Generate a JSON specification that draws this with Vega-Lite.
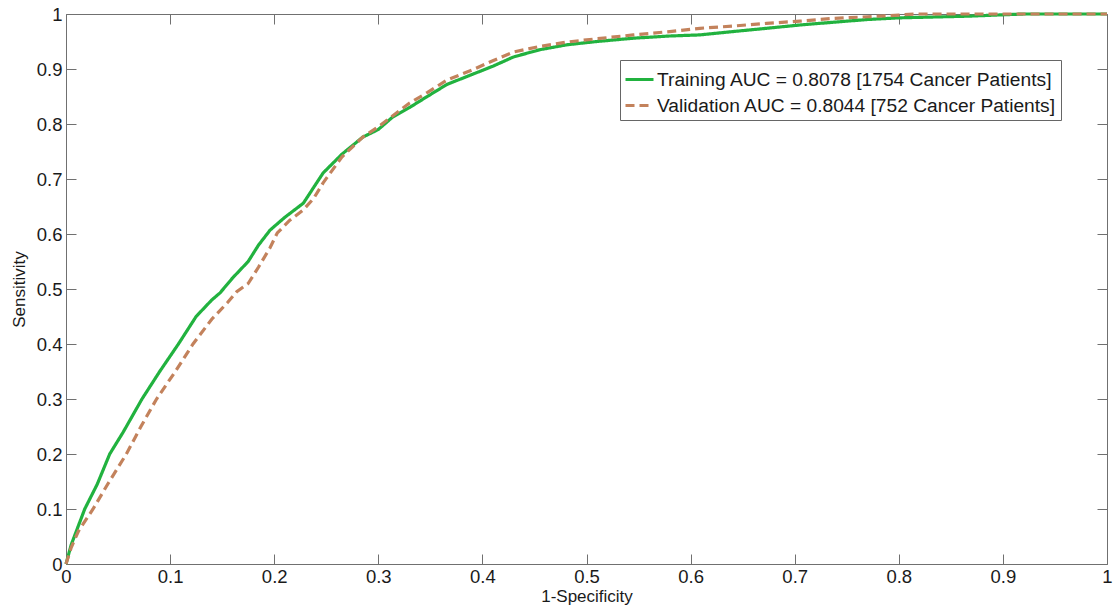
{
  "$schema": "https://vega.github.io/schema/vega-lite/v6.json",
  "width": 1041,
  "height": 550,
  "autosize": {"type": "none"},
  "padding": {"left": 66, "top": 14, "right": 6, "bottom": 44},
  "background": "white",
  "config": {
    "view": {"stroke": null},
    "font": "Liberation Sans",
    "axis": {
      "grid": false,
      "domainColor": "#707070",
      "tickColor": "#707070",
      "tickSize": -10,
      "labelColor": "#1a1a1a",
      "labelFont": "Liberation Sans",
      "labelFontSize": 18.5,
      "titleFont": "Liberation Sans",
      "titleFontSize": 17,
      "titleFontWeight": "normal",
      "titleColor": "#1a1a1a",
      "labelFlush": false,
      "labelOverlap": false
    }
  },
  "datasets": {
    "roc": [
      {"series": "Training AUC = 0.8078 [1754 Cancer Patients]", "fpr": 0, "tpr": 0},
      {"series": "Training AUC = 0.8078 [1754 Cancer Patients]", "fpr": 0.005, "tpr": 0.035},
      {"series": "Training AUC = 0.8078 [1754 Cancer Patients]", "fpr": 0.01, "tpr": 0.06},
      {"series": "Training AUC = 0.8078 [1754 Cancer Patients]", "fpr": 0.018, "tpr": 0.1},
      {"series": "Training AUC = 0.8078 [1754 Cancer Patients]", "fpr": 0.03, "tpr": 0.145},
      {"series": "Training AUC = 0.8078 [1754 Cancer Patients]", "fpr": 0.042, "tpr": 0.2},
      {"series": "Training AUC = 0.8078 [1754 Cancer Patients]", "fpr": 0.055, "tpr": 0.24},
      {"series": "Training AUC = 0.8078 [1754 Cancer Patients]", "fpr": 0.073, "tpr": 0.3},
      {"series": "Training AUC = 0.8078 [1754 Cancer Patients]", "fpr": 0.09, "tpr": 0.35},
      {"series": "Training AUC = 0.8078 [1754 Cancer Patients]", "fpr": 0.108, "tpr": 0.4},
      {"series": "Training AUC = 0.8078 [1754 Cancer Patients]", "fpr": 0.125, "tpr": 0.45},
      {"series": "Training AUC = 0.8078 [1754 Cancer Patients]", "fpr": 0.14, "tpr": 0.48},
      {"series": "Training AUC = 0.8078 [1754 Cancer Patients]", "fpr": 0.148, "tpr": 0.493},
      {"series": "Training AUC = 0.8078 [1754 Cancer Patients]", "fpr": 0.16, "tpr": 0.52},
      {"series": "Training AUC = 0.8078 [1754 Cancer Patients]", "fpr": 0.175, "tpr": 0.55},
      {"series": "Training AUC = 0.8078 [1754 Cancer Patients]", "fpr": 0.185, "tpr": 0.58},
      {"series": "Training AUC = 0.8078 [1754 Cancer Patients]", "fpr": 0.196, "tpr": 0.607},
      {"series": "Training AUC = 0.8078 [1754 Cancer Patients]", "fpr": 0.21, "tpr": 0.63},
      {"series": "Training AUC = 0.8078 [1754 Cancer Patients]", "fpr": 0.228, "tpr": 0.656},
      {"series": "Training AUC = 0.8078 [1754 Cancer Patients]", "fpr": 0.247, "tpr": 0.711},
      {"series": "Training AUC = 0.8078 [1754 Cancer Patients]", "fpr": 0.265, "tpr": 0.745},
      {"series": "Training AUC = 0.8078 [1754 Cancer Patients]", "fpr": 0.285, "tpr": 0.776},
      {"series": "Training AUC = 0.8078 [1754 Cancer Patients]", "fpr": 0.3, "tpr": 0.79},
      {"series": "Training AUC = 0.8078 [1754 Cancer Patients]", "fpr": 0.314, "tpr": 0.813},
      {"series": "Training AUC = 0.8078 [1754 Cancer Patients]", "fpr": 0.33, "tpr": 0.83},
      {"series": "Training AUC = 0.8078 [1754 Cancer Patients]", "fpr": 0.347, "tpr": 0.85},
      {"series": "Training AUC = 0.8078 [1754 Cancer Patients]", "fpr": 0.366, "tpr": 0.872},
      {"series": "Training AUC = 0.8078 [1754 Cancer Patients]", "fpr": 0.39, "tpr": 0.89},
      {"series": "Training AUC = 0.8078 [1754 Cancer Patients]", "fpr": 0.41, "tpr": 0.905},
      {"series": "Training AUC = 0.8078 [1754 Cancer Patients]", "fpr": 0.43, "tpr": 0.922},
      {"series": "Training AUC = 0.8078 [1754 Cancer Patients]", "fpr": 0.455, "tpr": 0.935},
      {"series": "Training AUC = 0.8078 [1754 Cancer Patients]", "fpr": 0.481, "tpr": 0.944},
      {"series": "Training AUC = 0.8078 [1754 Cancer Patients]", "fpr": 0.51, "tpr": 0.95},
      {"series": "Training AUC = 0.8078 [1754 Cancer Patients]", "fpr": 0.545, "tpr": 0.956},
      {"series": "Training AUC = 0.8078 [1754 Cancer Patients]", "fpr": 0.58, "tpr": 0.96},
      {"series": "Training AUC = 0.8078 [1754 Cancer Patients]", "fpr": 0.609, "tpr": 0.962},
      {"series": "Training AUC = 0.8078 [1754 Cancer Patients]", "fpr": 0.635, "tpr": 0.967},
      {"series": "Training AUC = 0.8078 [1754 Cancer Patients]", "fpr": 0.673, "tpr": 0.974},
      {"series": "Training AUC = 0.8078 [1754 Cancer Patients]", "fpr": 0.705, "tpr": 0.98},
      {"series": "Training AUC = 0.8078 [1754 Cancer Patients]", "fpr": 0.737, "tpr": 0.985},
      {"series": "Training AUC = 0.8078 [1754 Cancer Patients]", "fpr": 0.77, "tpr": 0.99},
      {"series": "Training AUC = 0.8078 [1754 Cancer Patients]", "fpr": 0.8, "tpr": 0.993},
      {"series": "Training AUC = 0.8078 [1754 Cancer Patients]", "fpr": 0.866, "tpr": 0.996},
      {"series": "Training AUC = 0.8078 [1754 Cancer Patients]", "fpr": 0.92, "tpr": 1.0},
      {"series": "Training AUC = 0.8078 [1754 Cancer Patients]", "fpr": 1.0, "tpr": 1.0},
      {"series": "Validation AUC = 0.8044 [752 Cancer Patients]", "fpr": 0, "tpr": 0},
      {"series": "Validation AUC = 0.8044 [752 Cancer Patients]", "fpr": 0.005, "tpr": 0.03},
      {"series": "Validation AUC = 0.8044 [752 Cancer Patients]", "fpr": 0.012, "tpr": 0.06},
      {"series": "Validation AUC = 0.8044 [752 Cancer Patients]", "fpr": 0.026, "tpr": 0.1},
      {"series": "Validation AUC = 0.8044 [752 Cancer Patients]", "fpr": 0.04, "tpr": 0.145},
      {"series": "Validation AUC = 0.8044 [752 Cancer Patients]", "fpr": 0.058, "tpr": 0.2},
      {"series": "Validation AUC = 0.8044 [752 Cancer Patients]", "fpr": 0.072, "tpr": 0.25},
      {"series": "Validation AUC = 0.8044 [752 Cancer Patients]", "fpr": 0.087, "tpr": 0.3},
      {"series": "Validation AUC = 0.8044 [752 Cancer Patients]", "fpr": 0.105, "tpr": 0.35},
      {"series": "Validation AUC = 0.8044 [752 Cancer Patients]", "fpr": 0.122, "tpr": 0.4},
      {"series": "Validation AUC = 0.8044 [752 Cancer Patients]", "fpr": 0.14, "tpr": 0.445},
      {"series": "Validation AUC = 0.8044 [752 Cancer Patients]", "fpr": 0.155, "tpr": 0.475},
      {"series": "Validation AUC = 0.8044 [752 Cancer Patients]", "fpr": 0.164, "tpr": 0.495},
      {"series": "Validation AUC = 0.8044 [752 Cancer Patients]", "fpr": 0.175, "tpr": 0.51},
      {"series": "Validation AUC = 0.8044 [752 Cancer Patients]", "fpr": 0.185, "tpr": 0.54},
      {"series": "Validation AUC = 0.8044 [752 Cancer Patients]", "fpr": 0.196, "tpr": 0.575},
      {"series": "Validation AUC = 0.8044 [752 Cancer Patients]", "fpr": 0.203, "tpr": 0.602},
      {"series": "Validation AUC = 0.8044 [752 Cancer Patients]", "fpr": 0.215, "tpr": 0.625},
      {"series": "Validation AUC = 0.8044 [752 Cancer Patients]", "fpr": 0.228, "tpr": 0.644},
      {"series": "Validation AUC = 0.8044 [752 Cancer Patients]", "fpr": 0.238, "tpr": 0.665},
      {"series": "Validation AUC = 0.8044 [752 Cancer Patients]", "fpr": 0.247, "tpr": 0.693},
      {"series": "Validation AUC = 0.8044 [752 Cancer Patients]", "fpr": 0.265, "tpr": 0.74},
      {"series": "Validation AUC = 0.8044 [752 Cancer Patients]", "fpr": 0.285, "tpr": 0.776},
      {"series": "Validation AUC = 0.8044 [752 Cancer Patients]", "fpr": 0.3, "tpr": 0.795},
      {"series": "Validation AUC = 0.8044 [752 Cancer Patients]", "fpr": 0.314, "tpr": 0.815},
      {"series": "Validation AUC = 0.8044 [752 Cancer Patients]", "fpr": 0.33, "tpr": 0.838},
      {"series": "Validation AUC = 0.8044 [752 Cancer Patients]", "fpr": 0.347, "tpr": 0.857},
      {"series": "Validation AUC = 0.8044 [752 Cancer Patients]", "fpr": 0.366, "tpr": 0.88},
      {"series": "Validation AUC = 0.8044 [752 Cancer Patients]", "fpr": 0.39, "tpr": 0.898},
      {"series": "Validation AUC = 0.8044 [752 Cancer Patients]", "fpr": 0.41, "tpr": 0.915},
      {"series": "Validation AUC = 0.8044 [752 Cancer Patients]", "fpr": 0.43, "tpr": 0.931},
      {"series": "Validation AUC = 0.8044 [752 Cancer Patients]", "fpr": 0.455, "tpr": 0.941},
      {"series": "Validation AUC = 0.8044 [752 Cancer Patients]", "fpr": 0.481, "tpr": 0.949},
      {"series": "Validation AUC = 0.8044 [752 Cancer Patients]", "fpr": 0.51, "tpr": 0.955},
      {"series": "Validation AUC = 0.8044 [752 Cancer Patients]", "fpr": 0.545, "tpr": 0.962},
      {"series": "Validation AUC = 0.8044 [752 Cancer Patients]", "fpr": 0.58, "tpr": 0.968},
      {"series": "Validation AUC = 0.8044 [752 Cancer Patients]", "fpr": 0.609, "tpr": 0.974},
      {"series": "Validation AUC = 0.8044 [752 Cancer Patients]", "fpr": 0.64, "tpr": 0.978},
      {"series": "Validation AUC = 0.8044 [752 Cancer Patients]", "fpr": 0.673, "tpr": 0.983},
      {"series": "Validation AUC = 0.8044 [752 Cancer Patients]", "fpr": 0.705, "tpr": 0.987},
      {"series": "Validation AUC = 0.8044 [752 Cancer Patients]", "fpr": 0.737, "tpr": 0.992},
      {"series": "Validation AUC = 0.8044 [752 Cancer Patients]", "fpr": 0.77, "tpr": 0.995},
      {"series": "Validation AUC = 0.8044 [752 Cancer Patients]", "fpr": 0.8, "tpr": 0.998},
      {"series": "Validation AUC = 0.8044 [752 Cancer Patients]", "fpr": 0.815, "tpr": 1.0},
      {"series": "Validation AUC = 0.8044 [752 Cancer Patients]", "fpr": 1.0, "tpr": 1.0}
    ]
  },
  "data": {"name": "roc"},
  "resolve": {"axis": {"x": "independent", "y": "independent"}},
  "layer": [
    {
      "mark": {"type": "line", "strokeWidth": 3.2, "interpolate": "linear"},
      "encoding": {
        "x": {
          "field": "fpr", "type": "quantitative",
          "scale": {"domain": [0, 1], "nice": false, "zero": false},
          "axis": {"orient": "bottom", "title": "1-Specificity", "values": [0, 0.1, 0.2, 0.3, 0.4, 0.5, 0.6, 0.7, 0.8, 0.9, 1], "format": "~g", "labelPadding": 13, "titlePadding": 3}
        },
        "y": {
          "field": "tpr", "type": "quantitative",
          "scale": {"domain": [0, 1], "nice": false, "zero": false},
          "axis": {"orient": "left", "title": "Sensitivity", "values": [0, 0.1, 0.2, 0.3, 0.4, 0.5, 0.6, 0.7, 0.8, 0.9, 1], "format": "~g", "labelPadding": 14, "titlePadding": 8}
        },
        "color": {
          "field": "series", "type": "nominal",
          "scale": {"domain": ["Training AUC = 0.8078 [1754 Cancer Patients]", "Validation AUC = 0.8044 [752 Cancer Patients]"], "range": ["#21b23f", "#c3825c"]},
          "legend": {
            "title": null, "orient": "none", "legendX": 554, "legendY": 46,
            "symbolType": "stroke", "symbolSize": 784, "symbolStrokeWidth": 3,
            "labelFont": "Liberation Sans", "labelFontSize": 19.2, "labelColor": "#1a1a1a",
            "labelLimit": 0, "labelOffset": 2,
            "fillColor": "white", "strokeColor": "#666666", "padding": 4, "rowPadding": -2
          }
        },
        "strokeDash": {
          "field": "series", "type": "nominal",
          "scale": {"domain": ["Training AUC = 0.8078 [1754 Cancer Patients]", "Validation AUC = 0.8044 [752 Cancer Patients]"], "range": [[1, 0], [9, 5]]},
          "legend": {
            "title": null, "orient": "none", "legendX": 554, "legendY": 46,
            "symbolType": "stroke", "symbolSize": 784, "symbolStrokeWidth": 3,
            "labelFont": "Liberation Sans", "labelFontSize": 19.2, "labelColor": "#1a1a1a",
            "labelLimit": 0, "labelOffset": 2,
            "fillColor": "white", "strokeColor": "#666666", "padding": 4, "rowPadding": -2
          }
        }
      }
    },
    {
      "mark": {"type": "line", "opacity": 0},
      "encoding": {
        "x": {
          "field": "fpr", "type": "quantitative",
          "axis": {"orient": "top", "title": null, "labels": false, "values": [0, 0.1, 0.2, 0.3, 0.4, 0.5, 0.6, 0.7, 0.8, 0.9, 1]}
        },
        "y": {
          "field": "tpr", "type": "quantitative",
          "axis": {"orient": "right", "title": null, "labels": false, "values": [0, 0.1, 0.2, 0.3, 0.4, 0.5, 0.6, 0.7, 0.8, 0.9, 1]}
        },
        "detail": {"field": "series", "type": "nominal"}
      }
    }
  ]
}
